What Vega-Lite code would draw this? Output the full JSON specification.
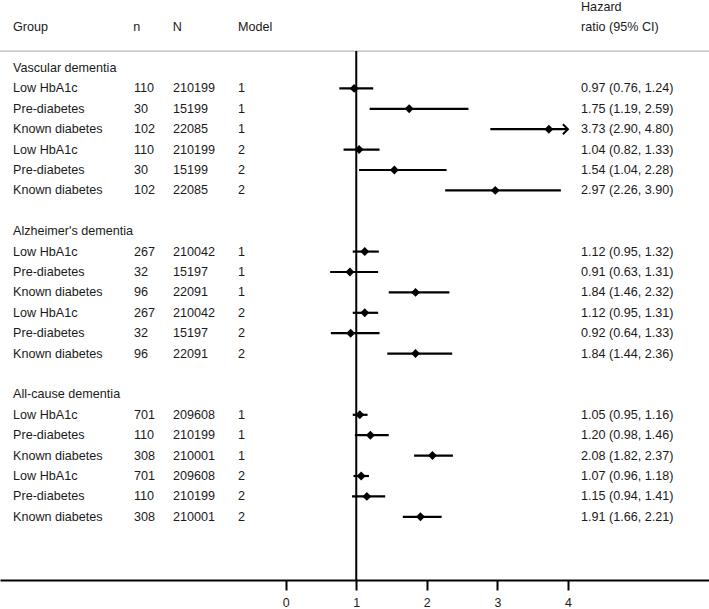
{
  "$schema": "https://vega.github.io/schema/vega-lite/v6.json",
  "width": 709,
  "height": 609,
  "autosize": {"type": "none"},
  "padding": 0,
  "background": "white",
  "data": {"values": [{}]},
  "config": {
    "view": {"stroke": null},
    "text": {"font": "Liberation Sans", "fontSize": 12.6, "color": "#1a1a1a", "align": "left", "baseline": "middle"},
    "axisX": {
      "grid": false, "domainColor": "black", "domainWidth": 2, "tickColor": "black", "tickWidth": 2, "tickSize": 10,
      "labelFont": "Liberation Sans", "labelFontSize": 12.4, "labelColor": "#1a1a1a", "labelPadding": 6, "labelFlush": false
    }
  },
  "datasets": {
    "results": [
      {"outcome": "Vascular dementia", "group": "Low HbA1c", "n": 110, "N": 210199, "model": 1, "hr": 0.97, "lower": 0.76, "upper": 1.24},
      {"outcome": "Vascular dementia", "group": "Pre-diabetes", "n": 30, "N": 15199, "model": 1, "hr": 1.75, "lower": 1.19, "upper": 2.59},
      {"outcome": "Vascular dementia", "group": "Known diabetes", "n": 102, "N": 22085, "model": 1, "hr": 3.73, "lower": 2.90, "upper": 4.80},
      {"outcome": "Vascular dementia", "group": "Low HbA1c", "n": 110, "N": 210199, "model": 2, "hr": 1.04, "lower": 0.82, "upper": 1.33},
      {"outcome": "Vascular dementia", "group": "Pre-diabetes", "n": 30, "N": 15199, "model": 2, "hr": 1.54, "lower": 1.04, "upper": 2.28},
      {"outcome": "Vascular dementia", "group": "Known diabetes", "n": 102, "N": 22085, "model": 2, "hr": 2.97, "lower": 2.26, "upper": 3.90},
      {"outcome": "Alzheimer's dementia", "group": "Low HbA1c", "n": 267, "N": 210042, "model": 1, "hr": 1.12, "lower": 0.95, "upper": 1.32},
      {"outcome": "Alzheimer's dementia", "group": "Pre-diabetes", "n": 32, "N": 15197, "model": 1, "hr": 0.91, "lower": 0.63, "upper": 1.31},
      {"outcome": "Alzheimer's dementia", "group": "Known diabetes", "n": 96, "N": 22091, "model": 1, "hr": 1.84, "lower": 1.46, "upper": 2.32},
      {"outcome": "Alzheimer's dementia", "group": "Low HbA1c", "n": 267, "N": 210042, "model": 2, "hr": 1.12, "lower": 0.95, "upper": 1.31},
      {"outcome": "Alzheimer's dementia", "group": "Pre-diabetes", "n": 32, "N": 15197, "model": 2, "hr": 0.92, "lower": 0.64, "upper": 1.33},
      {"outcome": "Alzheimer's dementia", "group": "Known diabetes", "n": 96, "N": 22091, "model": 2, "hr": 1.84, "lower": 1.44, "upper": 2.36},
      {"outcome": "All-cause dementia", "group": "Low HbA1c", "n": 701, "N": 209608, "model": 1, "hr": 1.05, "lower": 0.95, "upper": 1.16},
      {"outcome": "All-cause dementia", "group": "Pre-diabetes", "n": 110, "N": 210199, "model": 1, "hr": 1.20, "lower": 0.98, "upper": 1.46},
      {"outcome": "All-cause dementia", "group": "Known diabetes", "n": 308, "N": 210001, "model": 1, "hr": 2.08, "lower": 1.82, "upper": 2.37},
      {"outcome": "All-cause dementia", "group": "Low HbA1c", "n": 701, "N": 209608, "model": 2, "hr": 1.07, "lower": 0.96, "upper": 1.18},
      {"outcome": "All-cause dementia", "group": "Pre-diabetes", "n": 110, "N": 210199, "model": 2, "hr": 1.15, "lower": 0.94, "upper": 1.41},
      {"outcome": "All-cause dementia", "group": "Known diabetes", "n": 308, "N": 210001, "model": 2, "hr": 1.91, "lower": 1.66, "upper": 2.21}
    ],
    "sections": [
      {"outcome": "Vascular dementia"},
      {"outcome": "Alzheimer's dementia"},
      {"outcome": "All-cause dementia"}
    ]
  },
  "layer": [
    {
      "mark": {"type": "rule", "color": "#b8b8b8", "strokeWidth": 1.2},
      "encoding": {
        "y": {"datum": -0.83, "type": "quantitative", "scale": {"domain": [-3.333, 26.52], "reverse": true, "nice": false, "zero": false}, "axis": null}
      }
    },
    {
      "mark": {"type": "rule", "color": "black", "strokeWidth": 2},
      "encoding": {
        "x": {"datum": 1, "type": "quantitative", "scale": {"domain": [-4.05, 6.0], "nice": false, "zero": false},
          "axis": {"values": [0, 1, 2, 3, 4], "orient": "bottom", "offset": -29, "title": null, "labelFontSize": 12.4, "labelPadding": 6, "tickSize": 10}},
        "y": {"datum": -0.83, "type": "quantitative", "scale": {"domain": [-3.333, 26.52], "reverse": true, "nice": false, "zero": false}, "axis": null},
        "y2": {"datum": 25.1}
      }
    },
    {
      "data": {"name": "results"},
      "transform": [
        {"calculate": "indexof([\"Vascular dementia\", \"Alzheimer's dementia\", \"All-cause dementia\"], datum.outcome) * 8 + (datum.model - 1) * 3 + indexof([\"Low HbA1c\", \"Pre-diabetes\", \"Known diabetes\"], datum.group) + 1", "as": "row"},
        {"calculate": "min(datum.upper, 4)", "as": "upper_shown"},
        {"calculate": "format(datum.hr, '.2f') + ' (' + format(datum.lower, '.2f') + ', ' + format(datum.upper, '.2f') + ')'", "as": "hr_text"}
      ],
      "layer": [
        {
          "mark": {"type": "rule", "color": "black", "strokeWidth": 2.2},
          "encoding": {
            "x": {"field": "lower", "type": "quantitative", "axis": {"values": [0, 1, 2, 3, 4], "orient": "bottom", "offset": -29, "title": null, "labelFontSize": 12.4, "labelPadding": 6, "tickSize": 10}},
            "x2": {"field": "upper_shown"},
            "y": {"field": "row", "type": "quantitative", "axis": null}
          }
        },
        {
          "mark": {"type": "point", "shape": "diamond", "filled": true, "color": "black", "opacity": 1, "size": 80},
          "encoding": {
            "x": {"field": "hr", "type": "quantitative", "axis": {"values": [0, 1, 2, 3, 4], "orient": "bottom", "offset": -29, "title": null, "labelFontSize": 12.4, "labelPadding": 6, "tickSize": 10}},
            "y": {"field": "row", "type": "quantitative", "axis": null}
          }
        },
        {
          "transform": [{"filter": "datum.upper > 4"}],
          "mark": {"type": "point", "shape": "M-1,-1L0,0L-1,1", "filled": false, "stroke": "black", "strokeWidth": 2, "opacity": 1, "size": 100},
          "encoding": {
            "x": {"field": "upper_shown", "type": "quantitative", "axis": {"values": [0, 1, 2, 3, 4], "orient": "bottom", "offset": -29, "title": null, "labelFontSize": 12.4, "labelPadding": 6, "tickSize": 10}},
            "y": {"field": "row", "type": "quantitative", "axis": null}
          }
        },
        {
          "mark": {"type": "text"},
          "encoding": {
            "x": {"datum": -3.865, "type": "quantitative", "axis": {"values": [0, 1, 2, 3, 4], "orient": "bottom", "offset": -29, "title": null, "labelFontSize": 12.4, "labelPadding": 6, "tickSize": 10}},
            "y": {"field": "row", "type": "quantitative", "axis": null},
            "text": {"field": "group", "type": "nominal"}
          }
        },
        {
          "mark": {"type": "text"},
          "encoding": {
            "x": {"datum": -2.15, "type": "quantitative", "axis": {"values": [0, 1, 2, 3, 4], "orient": "bottom", "offset": -29, "title": null, "labelFontSize": 12.4, "labelPadding": 6, "tickSize": 10}},
            "y": {"field": "row", "type": "quantitative", "axis": null},
            "text": {"field": "n", "type": "nominal"}
          }
        },
        {
          "mark": {"type": "text"},
          "encoding": {
            "x": {"datum": -1.598, "type": "quantitative", "axis": {"values": [0, 1, 2, 3, 4], "orient": "bottom", "offset": -29, "title": null, "labelFontSize": 12.4, "labelPadding": 6, "tickSize": 10}},
            "y": {"field": "row", "type": "quantitative", "axis": null},
            "text": {"field": "N", "type": "nominal"}
          }
        },
        {
          "mark": {"type": "text"},
          "encoding": {
            "x": {"datum": -0.676, "type": "quantitative", "axis": {"values": [0, 1, 2, 3, 4], "orient": "bottom", "offset": -29, "title": null, "labelFontSize": 12.4, "labelPadding": 6, "tickSize": 10}},
            "y": {"field": "row", "type": "quantitative", "axis": null},
            "text": {"field": "model", "type": "nominal"}
          }
        },
        {
          "mark": {"type": "text"},
          "encoding": {
            "x": {"datum": 4.186, "type": "quantitative", "axis": {"values": [0, 1, 2, 3, 4], "orient": "bottom", "offset": -29, "title": null, "labelFontSize": 12.4, "labelPadding": 6, "tickSize": 10}},
            "y": {"field": "row", "type": "quantitative", "axis": null},
            "text": {"field": "hr_text", "type": "nominal"}
          }
        }
      ]
    },
    {
      "data": {"name": "sections"},
      "transform": [
        {"calculate": "indexof([\"Vascular dementia\", \"Alzheimer's dementia\", \"All-cause dementia\"], datum.outcome) * 8", "as": "row"}
      ],
      "mark": {"type": "text"},
      "encoding": {
        "x": {"datum": -3.865, "type": "quantitative", "axis": {"values": [0, 1, 2, 3, 4], "orient": "bottom", "offset": -29, "title": null, "labelFontSize": 12.4, "labelPadding": 6, "tickSize": 10}},
        "y": {"field": "row", "type": "quantitative", "axis": null},
        "text": {"field": "outcome", "type": "nominal"}
      }
    },
    {
      "mark": {"type": "text", "text": "Group"},
      "encoding": {
        "x": {"datum": -3.865, "type": "quantitative", "axis": {"values": [0, 1, 2, 3, 4], "orient": "bottom", "offset": -29, "title": null, "labelFontSize": 12.4, "labelPadding": 6, "tickSize": 10}},
        "y": {"datum": -2, "type": "quantitative", "axis": null}
      }
    },
    {
      "mark": {"type": "text", "text": "n"},
      "encoding": {
        "x": {"datum": -2.16, "type": "quantitative", "axis": {"values": [0, 1, 2, 3, 4], "orient": "bottom", "offset": -29, "title": null, "labelFontSize": 12.4, "labelPadding": 6, "tickSize": 10}},
        "y": {"datum": -2, "type": "quantitative", "axis": null}
      }
    },
    {
      "mark": {"type": "text", "text": "N"},
      "encoding": {
        "x": {"datum": -1.60, "type": "quantitative", "axis": {"values": [0, 1, 2, 3, 4], "orient": "bottom", "offset": -29, "title": null, "labelFontSize": 12.4, "labelPadding": 6, "tickSize": 10}},
        "y": {"datum": -2, "type": "quantitative", "axis": null}
      }
    },
    {
      "mark": {"type": "text", "text": "Model"},
      "encoding": {
        "x": {"datum": -0.676, "type": "quantitative", "axis": {"values": [0, 1, 2, 3, 4], "orient": "bottom", "offset": -29, "title": null, "labelFontSize": 12.4, "labelPadding": 6, "tickSize": 10}},
        "y": {"datum": -2, "type": "quantitative", "axis": null}
      }
    },
    {
      "mark": {"type": "text", "text": "Hazard"},
      "encoding": {
        "x": {"datum": 4.186, "type": "quantitative", "axis": {"values": [0, 1, 2, 3, 4], "orient": "bottom", "offset": -29, "title": null, "labelFontSize": 12.4, "labelPadding": 6, "tickSize": 10}},
        "y": {"datum": -3, "type": "quantitative", "axis": null}
      }
    },
    {
      "mark": {"type": "text", "text": "ratio (95% CI)"},
      "encoding": {
        "x": {"datum": 4.186, "type": "quantitative", "axis": {"values": [0, 1, 2, 3, 4], "orient": "bottom", "offset": -29, "title": null, "labelFontSize": 12.4, "labelPadding": 6, "tickSize": 10}},
        "y": {"datum": -2, "type": "quantitative", "axis": null}
      }
    }
  ]
}
